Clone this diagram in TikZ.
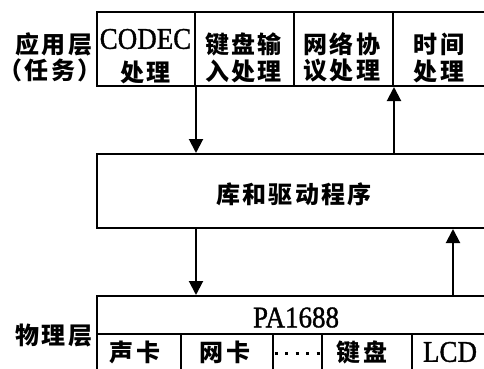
\documentclass[tikz,border=0pt]{standalone}
\usepackage{fontspec}
\setmainfont{Liberation Serif}
\newfontfamily\latin{Liberation Serif}[FakeStretch=0.9,FakeBold=1.2]
\newfontfamily\cjk{Noto Sans CJK SC}[LetterSpace=9]
\usetikzlibrary{arrows.meta}
\begin{document}
\begin{tikzpicture}[x=1pt,y=1pt,
  cellbox/.style={draw, line width=2pt, inner sep=0pt, anchor=south west, rectangle},
  arr/.style={line width=2pt, -{Triangle[width=14pt,length=14pt]}},
  zh/.style={inner sep=0pt, font=\cjk\bfseries\fontsize{24}{24}\selectfont},
  lat/.style={inner sep=0pt, font=\latin\fontsize{30}{30}\selectfont},
  dotrow/.style={line width=3pt, line cap=butt, dash pattern=on 3pt off 7.5pt}]
\clip (0,0) rectangle (484,368);
\fill[white] (0,0) rectangle (484,368);
% application layer
\node[cellbox, minimum width=98pt, minimum height=74pt] (app1) at (96,281) {};
\node[cellbox, minimum width=99pt, minimum height=74pt] (app2) at (194,281) {};
\node[cellbox, minimum width=99pt, minimum height=74pt] (app3) at (293,281) {};
\node[cellbox, minimum width=98pt, minimum height=74pt] (app4) at (392,281) {};
% library box
\node[cellbox, minimum width=404pt, minimum height=74pt] (mid) at (96,139) {};
% physical layer
\node[cellbox, minimum width=404pt, minimum height=38pt] (pa) at (96,33) {};
\node[cellbox, minimum width=84pt, minimum height=45pt] (b1) at (96,-12) {};
\node[cellbox, minimum width=92pt, minimum height=45pt] (b2) at (180,-12) {};
\node[cellbox, minimum width=49pt, minimum height=45pt] (b3) at (272,-12) {};
\node[cellbox, minimum width=90pt, minimum height=45pt] (b4) at (321,-12) {};
\node[cellbox, minimum width=89pt, minimum height=45pt] (b5) at (411,-12) {};
% left labels
\node[zh] (l1) at (54,324) {应用层};
\node[zh] (l2) at (50,298) {（任务）};
\node[zh] (l3) at (54,32) {物理层};
% cell texts
\node[lat] (t1a) at (145.5,329) {CODEC};
\node[zh] (t1b) at (145.5,296) {处理};
\node[zh] (t2a) at (243.5,324) {键盘输};
\node[zh] (t2b) at (243.5,297) {入处理};
\node[zh] (t3a) at (342,324) {网络协};
\node[zh] (t3b) at (342,297) {议处理};
\node[zh] (t4a) at (439,324) {时间};
\node[zh] (t4b) at (439,297) {处理};
\node[zh] (tm) at (294,174) {库和驱动程序};
\node[lat] (tpa) at (296,50.5) {PA1688};
\node[zh] (s1) at (135,15.5) {声卡};
\node[zh] (s2) at (225,15.5) {网卡};
\node[zh] (s4) at (362,15.5) {键盘};
\node[lat] (s5) at (450,16) {LCD};
\coordinate (dl) at (274.5,15);
\coordinate (dr) at (320,15);
\draw[dotrow] (dl) -- (dr);
% arrows
\coordinate (rx) at (453,0);
\draw[arr] (app1.south east) -- (app1.south east |- mid.north);
\draw[arr] (mid.north -| app3.south east) -- (app3.south east);
\draw[arr] (mid.south -| app1.south east) -- (pa.north -| app1.south east);
\draw[arr] (pa.north -| rx) -- (mid.south -| rx);
\end{tikzpicture}
\end{document}
